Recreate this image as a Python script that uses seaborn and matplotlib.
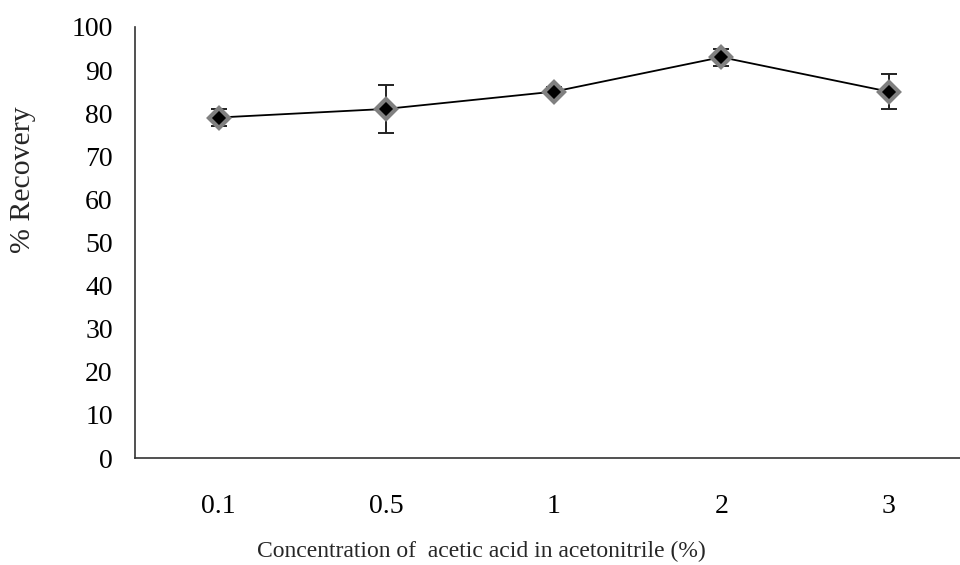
import matplotlib
matplotlib.use("Agg")
import matplotlib.pyplot as plt
import seaborn as sns
import pandas as pd

concentrations = ["0.1", "0.5", "1", "2", "3"]
recovery = [79, 81, 85, 93, 85]
recovery_err = [2.0, 5.5, 1.0, 2.0, 4.0]

sns.set_style("white")
plt.rcParams["font.family"] = ["Liberation Serif", "DejaVu Serif"]

df = pd.DataFrame({"conc": concentrations, "rec": recovery})

fig = plt.figure(figsize=(9.6, 5.65), dpi=100)
ax = fig.add_axes([135 / 960, 107 / 565, 825 / 960, 431 / 565])

ax.errorbar(range(len(concentrations)), recovery, yerr=recovery_err,
            fmt="none", ecolor="#222222", elinewidth=1.4, capsize=6,
            capthick=1.4, zorder=2)
sns.lineplot(data=df, x="conc", y="rec", ax=ax, color="black", linewidth=1.3,
             marker="D", markersize=10, markerfacecolor="black",
             markeredgecolor="#808080", markeredgewidth=3, zorder=3)

ax.set_ylim(0, 100)
ax.set_xlim(-0.5, -0.5 + 825 / 167.5)
ax.set_yticks(range(0, 101, 10))
ax.tick_params(axis="both", length=0, labelsize=20, colors="black")
ax.tick_params(axis="x", pad=26)
ax.tick_params(axis="y", pad=16)

for side in ("top", "right"):
    ax.spines[side].set_visible(False)
for side in ("left", "bottom"):
    ax.spines[side].set_color("#333333")
    ax.spines[side].set_linewidth(1.2)

ax.set_xlabel("Concentration of  acetic acid in acetonitrile (%)", fontsize=17,
              va="center")
ax.xaxis.set_label_coords(0.42, -0.2158)
ax.set_ylabel("% Recovery", fontsize=21.5, va="center")
ax.yaxis.set_label_coords(-0.1358, 0.647)

fig.savefig("out.png", dpi=100)
